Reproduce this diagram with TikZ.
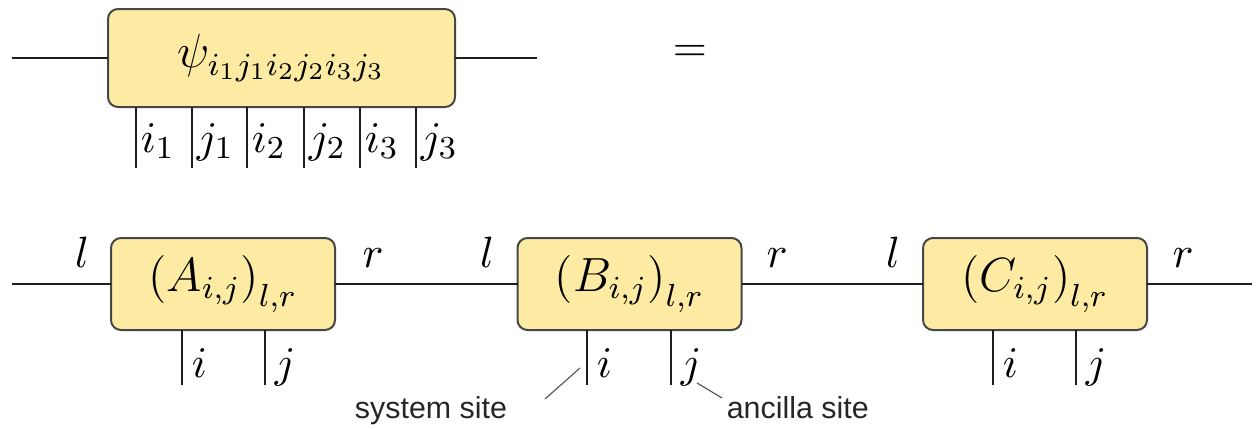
\documentclass[tikz,border=0pt]{standalone}
\usepackage{fontspec}
\newfontfamily\notefont{Liberation Sans}
\definecolor{boxfill}{RGB}{253,235,163}
\definecolor{boxedge}{RGB}{70,70,70}
\definecolor{bondcol}{RGB}{30,30,30}
\definecolor{leadcol}{RGB}{90,90,90}
\begin{document}
\begin{tikzpicture}[x=0.25pt,y=-0.25pt,
  tensor/.style={draw=boxedge,fill=boxfill,line width=0.5pt,rounded corners=2.5pt,
    inner sep=0pt,outer sep=0pt,font=\fontsize{12}{14}\selectfont},
  bigtensor/.style={tensor,minimum width=86.75pt,minimum height=24.5pt},
  sitetensor/.style={tensor,minimum width=56pt,minimum height=23pt},
  bond/.style={draw=bondcol,line width=0.7pt},
  idx/.style={inner sep=0pt,font=\fontsize{11}{13}\selectfont},
  leader/.style={draw=leadcol,line width=0.3pt},
  note/.style={inner sep=0pt,text=black!85,font=\notefont\fontsize{7.6}{9}\selectfont}]
\useasboundingbox (0,0) rectangle (1259,428);

% --- the full state tensor ---
\node[bigtensor] (psi) at (281.5,58) {$\psi_{i_1j_1i_2j_2i_3j_3}$};
\coordinate (psiL) at (12,58);
\coordinate (psiR) at (537,58);
\draw[bond] (psiL) -- (psi.west);
\draw[bond] (psi.east) -- (psiR);
\foreach \x/\lab [count=\k] in {136/i_1,192/j_1,247/i_2,304/j_2,360/i_3,416/j_3}{
  \coordinate (leg\k t) at (\x,107);
  \coordinate (leg\k b) at (\x,168);
  \draw[bond] (leg\k t) -- (leg\k b);
  \node[idx,anchor=base west] (lab\k) at (\x+4,152) {$\lab$};
}

\node[idx] (eq) at (690,53) {$=$};

% --- the matrix product form ---
\node[sitetensor] (A) at (223,284) {$\left(A_{i,j}\right)_{l,r}$};
\node[sitetensor] (B) at (629.5,284) {$\left(B_{i,j}\right)_{l,r}$};
\node[sitetensor] (C) at (1035,284) {$\left(C_{i,j}\right)_{l,r}$};
\coordinate (chainL) at (12,284);
\coordinate (chainR) at (1252,284);
\draw[bond] (chainL) -- (A.west);
\draw[bond] (A.east) -- (B.west);
\draw[bond] (B.east) -- (C.west);
\draw[bond] (C.east) -- (chainR);

\foreach \n/\xi/\xj/\xl/\xr in {A/182/265/82/373,B/587/671/487/777,C/993/1076/893/1183}{
  \coordinate (\n it) at (\xi,330);
  \coordinate (\n ib) at (\xi,385);
  \coordinate (\n jt) at (\xj,330);
  \coordinate (\n jb) at (\xj,385);
  \draw[bond] (\n it) -- (\n ib);
  \draw[bond] (\n jt) -- (\n jb);
  \node[idx,anchor=base west] (\n i) at (\xi+9,377) {$i$};
  \node[idx,anchor=base west] (\n j) at (\xj+9,377) {$j$};
  \node[idx,anchor=base] (\n l) at (\xl,267) {$l$};
  \node[idx,anchor=base] (\n r) at (\xr,267) {$r$};
}

% --- annotations ---
\node[note,anchor=base] (sys) at (431,418) {system site};
\node[note,anchor=base west] (anc) at (726,418) {ancilla site};
\coordinate (sysA) at (580,368);
\coordinate (sysB) at (545,399);
\coordinate (ancA) at (697,383);
\coordinate (ancB) at (722,398);
\draw[leader] (sysA) -- (sysB);
\draw[leader] (ancA) -- (ancB);
\end{tikzpicture}
\end{document}
